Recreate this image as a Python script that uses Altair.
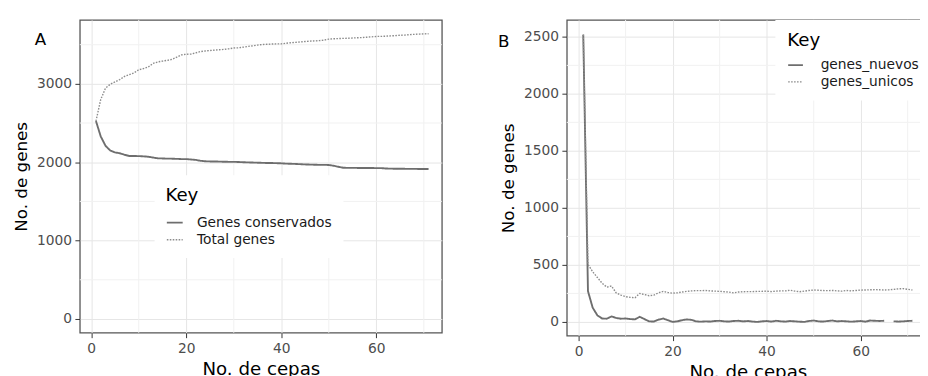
import altair as alt
import pandas as pd

FONT = "DejaVu Sans"

# ---------------- data ----------------
cepas = list(range(1, 72))

genes_conservados = [
    2525, 2330, 2210, 2150, 2125, 2115, 2095, 2080, 2080, 2078,
    2075, 2070, 2060, 2050, 2048, 2046, 2045, 2043, 2040, 2040,
    2035, 2030, 2018, 2012, 2010, 2010, 2008, 2006, 2005, 2005,
    2003, 2000, 1998, 1996, 1994, 1992, 1990, 1990, 1988, 1986,
    1982, 1980, 1978, 1975, 1972, 1970, 1968, 1966, 1966, 1965,
    1955, 1942, 1930, 1928, 1928, 1927, 1927, 1926, 1926, 1925,
    1925, 1920, 1918, 1917, 1916, 1916, 1915, 1915, 1914, 1914,
    1913,
]

total_genes = [
    2525, 2800, 2945, 2995, 3025, 3055, 3095, 3118, 3140, 3180,
    3195, 3215, 3260, 3280, 3290, 3300, 3312, 3340, 3370, 3378,
    3380, 3395, 3412, 3420, 3425, 3430, 3435, 3440, 3448, 3458,
    3460, 3468, 3478, 3485, 3495, 3502, 3505, 3508, 3510, 3510,
    3518, 3525, 3530, 3535, 3540, 3545, 3548, 3552, 3558, 3570,
    3575, 3578, 3580, 3582, 3585, 3588, 3590, 3595, 3600, 3605,
    3606, 3608, 3612, 3615, 3620, 3622, 3628, 3632, 3635, 3638,
    3640,
]

genes_nuevos = [
    2520, 270, 125, 58, 30, 28, 48, 35, 28, 30,
    25, 22, 45, 25, 5, 3, 20, 30, 15, 0,
    5, 15, 22, 18, 5, 2, 5, 3, 8, 10,
    5, 3, 8, 10, 5, 8, 3, 0, 5, 8,
    3, 10, 5, 3, 8, 5, 2, 0, 8, 12,
    5, 3, 8, 12, 5, 8, 5, 2, 5, 8,
    2, 12, 10, 8, 10, None, 5, 3, 5, 8,
    10,
]

genes_unicos = [
    2520, 505, 440, 390, 340, 305, 315, 255, 235, 222,
    215, 212, 250, 240, 230, 235, 255, 268, 258, 252,
    255, 262, 268, 272, 275, 274, 276, 272, 270, 268,
    265, 262, 255, 262, 265, 266, 266, 268, 268, 270,
    266, 270, 272, 272, 278, 270, 265, 270, 276, 280,
    278, 275, 274, 276, 272, 270, 276, 272, 276, 279,
    280, 282, 283, 282, 280, 282, 285, 290, 292, 286,
    280,
]

keys_A = ["Genes conservados", "Total genes"]
keys_B = ["genes_nuevos", "genes_unicos"]

ticks_x = [0, 20, 40, 60]
minor_x = [10, 30, 50, 70]
ticks_yA = [0, 1000, 2000, 3000]
minor_yA = [500, 1500, 2500, 3500]
ticks_yB = [0, 500, 1000, 1500, 2000, 2500]
minor_yB = [250, 750, 1250, 1750, 2250]

SOLID = "#6e6e6e"
DOTTED = "#8c8c8c"
MINOR = "#f1f1f1"


def long_frame(series_a, series_b, keys):
    return pd.DataFrame({
        "cepas": cepas + cepas,
        "genes": series_a + series_b,
        "key": [keys[0]] * len(cepas) + [keys[1]] * len(cepas),
    })


def panel(df, keys, xdom, ydom, yticks, yminor, w, h, legend, tag, tag_x, tag_y):
    x_enc = alt.X("cepas:Q", title="No. de cepas",
                  scale=alt.Scale(domain=xdom, nice=False, zero=False),
                  axis=alt.Axis(values=ticks_x, format="d"))
    y_enc = alt.Y("genes:Q", title="No. de genes",
                  scale=alt.Scale(domain=ydom, nice=False, zero=False),
                  axis=alt.Axis(values=yticks, format="d"))

    minor_v = alt.Chart(pd.DataFrame({"cepas": minor_x})).mark_rule(
        color=MINOR, strokeWidth=1).encode(x=x_enc)
    minor_h = alt.Chart(pd.DataFrame({"genes": yminor})).mark_rule(
        color=MINOR, strokeWidth=1).encode(y=y_enc)

    lines = alt.Chart(df).mark_line(clip=True).encode(
        x=x_enc,
        y=y_enc,
        color=alt.Color("key:N", scale=alt.Scale(domain=keys, range=[SOLID, DOTTED]),
                        legend=legend),
        strokeDash=alt.StrokeDash("key:N",
                                  scale=alt.Scale(domain=keys, range=[[1, 0], [1.6, 1.4]]),
                                  legend=legend),
        strokeWidth=alt.StrokeWidth("key:N",
                                    scale=alt.Scale(domain=keys, range=[1.9, 1.4]),
                                    legend=None),
        order="cepas:Q",
    )

    tag_layer = alt.Chart(pd.DataFrame({"t": [tag]})).mark_text(
        font=FONT, fontSize=17, color="black", align="center", baseline="alphabetic"
    ).encode(x=alt.value(tag_x), y=alt.value(tag_y), text="t:N")

    return alt.layer(minor_v, minor_h, lines, tag_layer).properties(width=w, height=h)


legend_A = alt.Legend(
    title="Key", orient="none", legendX=76, legendY=158, fillColor="white",
    padding=11, symbolType="stroke", symbolSize=260, symbolStrokeWidth=1.9,
    labelOffset=13, titlePadding=9, rowPadding=1,
    labelFont=FONT, labelFontSize=14, labelColor="#1a1a1a",
    titleFont=FONT, titleFontSize=18.5, titleFontWeight="normal", titleColor="black",
)
legend_B = alt.Legend(
    title="Key", orient="none", legendX=212, legendY=0, fillColor="white",
    padding=12, symbolType="stroke", symbolSize=225, symbolStrokeWidth=1.6,
    labelOffset=17, titlePadding=7, rowPadding=1,
    labelFont=FONT, labelFontSize=14, labelColor="#1a1a1a",
    titleFont=FONT, titleFontSize=18.5, titleFontWeight="normal", titleColor="black",
)

panel_A = panel(long_frame(genes_conservados, total_genes, keys_A), keys_A,
                [-2.4, 73.8], [-176, 3816], ticks_yA, minor_yA, 368, 318,
                legend_A, "A", -40, 25)
panel_B = panel(long_frame(genes_nuevos, genes_unicos, keys_B), keys_B,
                [-2.5, 74.5], [-121, 2649], ticks_yB, minor_yB, 368, 321,
                legend_B, "B", -64, 28)

chart = (
    alt.hconcat(panel_A, panel_B, spacing=54)
    .resolve_scale(x="independent", y="independent", color="independent",
                   strokeDash="independent", strokeWidth="independent")
    .resolve_legend(color="independent", strokeDash="independent")
    .properties(padding={"left": 4, "top": 7, "right": -12, "bottom": 0})
    .configure(font=FONT)
    .configure_view(stroke="#555555", strokeWidth=1.3)
    .configure_axis(
        labelFont=FONT, labelFontSize=14, labelColor="#4d4d4d",
        titleFont=FONT, titleFontWeight="normal", titleColor="black",
        tickColor="#333333", tickSize=5, tickWidth=1, domain=False,
        gridColor="#e6e6e6", gridWidth=1,
    )
    .configure_axisX(labelPadding=4.5, titlePadding=4, titleFontSize=18.5)
    .configure_axisY(labelPadding=3.5, titlePadding=6, titleFontSize=17)
)

chart.save("out.html", embed_options={"renderer": "svg", "actions": False})
